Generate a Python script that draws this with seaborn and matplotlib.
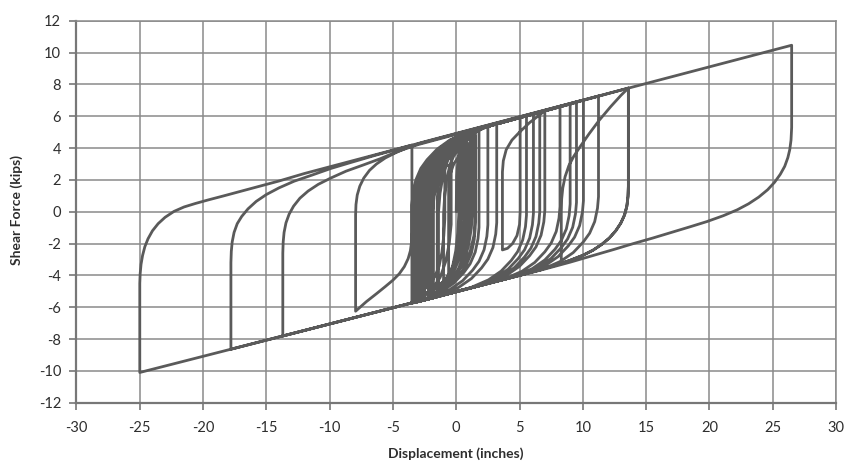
import matplotlib
matplotlib.use("Agg")
import matplotlib.pyplot as plt
import seaborn as sns
import pandas as pd

# Early small cycles around the origin, ending with the climb to the 13.6 in peak
early_disp = [0, 0.03, 0.15, 0.4, 0.8,
              0.8, 0.62, 0.26, -0.28, -1.0, -1.9, -2.8,
              -2.8, -2.65, -2.35, -1.9, -1.3, -0.55, 0.2,
              0.2, 0.12, -0.04, -0.28, -0.6, -1.0, -1.4,
              -1.4, -1.28, -1.03, -0.65, -0.15, 0.48, 1.1,
              1.1, 0.94, 0.6, 0.11, -0.55, -1.38, -2.2,
              -2.2, -2.11, -1.93, -1.66, -1.3, -0.85, -0.4,
              -0.4, -0.55, -0.84, -1.27, -1.85, -2.58, -3.3,
              -3.3, -3.22, -3.0, -2.6, -2.1, -1.3, -0.3, 1.5,
              1.5, 1.42, 1.2, 0.8, 0.3, -0.5, -1.5, -2.5,
              -2.5, -2.42, -2.2, -1.8, -1.3, -0.5, 0.5, 2.0, 2.5,
              2.5, 2.42, 2.2, 1.8, 1.3, 0.5, -0.5, -1.8,
              -1.8, -1.72, -1.5, -1.1, -0.6, 0.2, 1.2, 1.8,
              1.8, 1.72, 1.5, 1.1, 0.6, -0.2, -1.2, -2.7, -3.2,
              -3.2, -3.12, -2.9, -2.5, -2.0, -1.2, -0.2, 1.3, 3.2,
              3.2, 3.12, 2.9, 2.5, 2.0, 1.2, 0.2, -1.3, -3.0,
              -3.0, -2.92, -2.7, -2.3, -1.8, -1.0, 0.0, 1.5, 5.55,
              5.55, 5.47, 5.25, 4.85, 4.35, 3.55, 2.55, 1.05, -2.0,
              -2.0, -1.92, -1.7, -1.3, -0.8, 0.0, 1.0, 2.5, 13.6]
early_force = [0, 2.2, 3.3, 4.1, 4.75,
               -0.28, -1.48, -2.69, -3.69, -4.40, -4.9, -5.3,
               -0.4, 0.78, 1.95, 2.93, 3.62, 4.1, 4.5,
               -0.2, -1.33, -2.46, -3.4, -4.05, -4.52, -4.9,
               -0.03, 1.15, 2.32, 3.29, 3.97, 4.46, 4.85,
               -0.25, -1.47, -2.7, -3.72, -4.43, -4.94, -5.35,
               -0.63, 0.51, 1.64, 2.59, 3.25, 3.72, 4.1,
               -0.8, -1.98, -3.15, -4.13, -4.82, -5.31, -5.7,
               0.46, 1.18, 2.02, 2.76, 3.31, 3.98, 4.55, 5.1,
               -1.04, -1.76, -2.6, -3.33, -3.88, -4.55, -5.1, -5.5,
               0.63, 1.35, 2.19, 2.93, 3.48, 4.15, 4.72, 5.25, 5.39,
               -0.83, -1.55, -2.39, -3.12, -3.67, -4.34, -4.89, -5.35,
               0.78, 1.5, 2.34, 3.08, 3.63, 4.3, 4.87, 5.1,
               -0.98, -1.7, -2.54, -3.27, -3.82, -4.49, -5.04, -5.56, -5.69,
               0.48, 1.2, 2.04, 2.78, 3.33, 4.0, 4.57, 5.1, 5.54,
               -0.69, -1.41, -2.25, -2.98, -3.53, -4.2, -4.75, -5.27, -5.65,
               0.52, 1.24, 2.08, 2.82, 3.37, 4.04, 4.61, 5.14, 6.04,
               -0.22, -0.94, -1.78, -2.51, -3.06, -3.73, -4.28, -4.80, -5.45,
               0.74, 1.46, 2.3, 3.04, 3.59, 4.26, 4.83, 5.36, 7.77]

# Strong-motion pulse: the large excursions to both sides
pulse_disp = [13.6, 13.57, 13.48, 13.3, 13.0, 12.6, 12.1, 11.5, 10.8, 10.0, 9.1, 8.3,
              8.3, 8.33, 8.42, 8.6, 8.9, 9.3, 9.8, 10.5, 11.3, 12.2, 13.0, 13.6,
              13.6, 13.57, 13.48, 13.3, 13.0, 12.6, 12.1, 11.5, 10.8, 10.0, 9.1, 8.0, 6.5, -13.7,
              -13.7, -13.67, -13.6, -13.45, -13.2, -12.85, -12.35, -11.7, -10.9, -9.9,
              -8.7, -7.3, -6.0, -4.6, -3.0, 11.24,
              11.24, 11.16, 10.94, 10.54, 10.04, 9.24, 8.24, 6.74, -17.8,
              -17.8, -17.77, -17.7, -17.55, -17.3, -16.95, -16.45, -15.8, -15.0, -14.0,
              -12.8, -11.4, -9.9, -8.3, -6.5, -4.5, -2.5, 26.5,
              26.5, 26.45, 26.35, 26.2, 25.95, 25.6, 25.15, 24.6, 23.9, 23.1, 22.2,
              21.1, 19.8, 18.5, 17.0, 15.5, 14.0, 12.5, 11.0, 9.0, 7.0, -25.0,
              -25.0, -24.97, -24.9, -24.78, -24.6, -24.35, -24.0, -23.55, -23.0, -22.3,
              -21.5, -20.6, -19.6, -18.4, -17.0, -15.5, -14.0, -12.0, -3.5,
              -3.5, -3.53, -3.62, -3.8, -4.1, -4.5, -5.0, -5.6, -6.3, -7.1, -7.95,
              -7.95, -7.92, -7.82, -7.62, -7.3, -6.85, -6.3, -5.6, -4.8, -3.9, -3.0, 10.05]
pulse_force = [1.6, 0.95, 0.35, -0.2, -0.72, -1.2, -1.65, -2.05, -2.42, -2.74, -3.02, -3.25,
               0.0, 0.8, 1.5, 2.2, 2.9, 3.5, 4.1, 4.9, 5.75, 6.6, 7.3, 7.77,
               1.6, 0.95, 0.35, -0.2, -0.72, -1.2, -1.65, -2.05, -2.42, -2.74, -3.02, -3.33, -3.68, -7.81,
               -2.6, -1.9, -1.3, -0.7, -0.15, 0.35, 0.85, 1.3, 1.72, 2.12,
               2.55, 2.95, 3.33, 3.8, 4.22, 7.27,
               0.94, 0.22, -0.62, -1.35, -1.9, -2.57, -3.12, -3.64, -8.64,
               -3.2, -2.5, -1.9, -1.3, -0.75, -0.3, 0.18, 0.65, 1.08, 1.5,
               1.92, 2.3, 2.72, 3.1, 3.52, 3.96, 4.4, 10.46,
               5.3, 4.5, 3.9, 3.4, 2.85, 2.35, 1.85, 1.38, 0.92, 0.5, 0.12,
               -0.25, -0.62, -0.94, -1.3, -1.66, -2.0, -2.36, -2.71, -3.17, -3.6, -10.1,
               -4.5, -3.9, -3.3, -2.75, -2.2, -1.7, -1.2, -0.75, -0.35, 0.02,
               0.30, 0.52, 0.74, 0.99, 1.29, 1.61, 1.93, 2.40, 4.19,
               -1.3, -1.9, -2.45, -2.95, -3.45, -3.9, -4.3, -4.7, -5.15, -5.65, -6.25,
               -0.2, 0.45, 1.05, 1.6, 2.12, 2.6, 3.0, 3.38, 3.7, 4.02, 4.27, 7.02]

# Decaying cycles after the pulse
decay_disp = [10.05, 9.97, 9.75, 9.35, 8.85, 8.05, 7.05, 5.55, -3.5,
              -3.5, -3.42, -3.2, -2.8, -2.3, -1.5, -0.5, 1.0, 9.5,
              9.5, 9.42, 9.2, 8.8, 8.3, 7.5, 6.5, 5.0, -3.3,
              -3.3, -3.22, -3.0, -2.6, -2.1, -1.3, -0.3, 1.2, 9.0,
              9.0, 8.92, 8.7, 8.3, 7.8, 7.0, 6.0, 4.5, -2.8,
              -2.8, -2.72, -2.5, -2.1, -1.6, -0.8, 0.2, 1.7, 8.2,
              8.2, 8.12, 7.9, 7.5, 7.0, 6.2, 5.2, 3.7, -2.5,
              -2.5, -2.42, -2.2, -1.8, -1.3, -0.5, 0.5, 2.0, 6.6,
              6.6, 6.52, 6.3, 5.9, 5.4, 4.6, 3.6, 2.1, -3.1,
              -3.1, -3.02, -2.8, -2.4, -1.9, -1.1, -0.1, 1.4, 6.1,
              6.1, 6.02, 5.8, 5.4, 4.9, 4.1, 3.1, 1.6, -2.2,
              -2.2, -2.12, -1.9, -1.5, -1.0, -0.2, 0.8, 2.3, 5.05]
decay_force = [0.69, -0.03, -0.87, -1.6, -2.15, -2.82, -3.37, -3.89, -5.75,
               0.42, 1.14, 1.98, 2.72, 3.27, 3.94, 4.51, 5.04, 6.87,
               0.58, -0.14, -0.98, -1.71, -2.26, -2.93, -3.48, -4.0, -5.71,
               0.46, 1.18, 2.02, 2.76, 3.31, 3.98, 4.55, 5.08, 6.77,
               0.48, -0.24, -1.08, -1.81, -2.36, -3.03, -3.58, -4.1, -5.61,
               0.57, 1.29, 2.13, 2.87, 3.42, 4.09, 4.66, 5.19, 6.6,
               0.32, -0.4, -1.24, -1.97, -2.52, -3.19, -3.74, -4.26, -5.55,
               0.63, 1.35, 2.19, 2.93, 3.48, 4.15, 4.72, 5.25, 6.26,
               0.0, -0.72, -1.56, -2.29, -2.84, -3.51, -4.06, -4.58, -5.67,
               0.5, 1.22, 2.06, 2.8, 3.35, 4.02, 4.59, 5.12, 6.15,
               -0.1, -0.82, -1.66, -2.39, -2.94, -3.61, -4.16, -4.68, -5.49,
               0.69, 1.41, 2.25, 2.99, 3.54, 4.21, 4.78, 5.31, 5.93]

# Final minor loop and free vibration near zero
tail_disp = [5.05, 5.0, 4.8, 4.45, 4.05, 3.65,
             3.65, 3.72, 3.95, 4.4, 5.0, 5.8, 7.0,
             7.0, 6.92, 6.7, 6.3, 5.8, 5.0, 4.0, 2.5, -1.5,
             -1.5, -1.42, -1.2, -0.8, -0.3, 0.5, 1.5,
             1.5, 1.4, 1.1, 0.6, 0.0, -0.6,
             -0.6, -0.5, -0.2, 0.3, 0.9,
             0.9, 0.72, 0.37, -0.15, -0.85, -1.73, -2.6,
             -2.6, -2.45, -2.15, -1.7, -1.1, -0.35, 0.4,
             0.4, 0.29, 0.06, -0.29, -0.75, -1.33, -1.9,
             -1.9, -1.74, -1.42, -0.94, -0.3, 0.5, 1.3,
             1.3, 1.19, 0.96, 0.61, 0.15, -0.43, -1.0,
             -1.0, -0.92, -0.76, -0.52, -0.2, 0.2, 0.6,
             0.6, 0.43, 0.08, -0.45, -1.15, -2.03, -2.9,
             -2.9, -2.8, -2.6, -2.3, -1.9, -1.4, -0.9,
             -0.9, -0.98, -1.13, -1.35, -1.65, -2.03, -2.4,
             -2.4, -2.3, -2.1, -1.8, -1.3, -0.7, -0.2]
tail_force = [0.0, -0.8, -1.5, -2.0, -2.3, -2.4,
              2.5, 3.2, 3.9, 4.5, 5.0, 5.6, 6.34,
              0.08, -0.64, -1.48, -2.21, -2.76, -3.43, -3.98, -4.5, -5.34,
              0.84, 1.56, 2.4, 3.14, 3.69, 4.36, 4.8,
              -0.5, -1.5, -2.5, -3.3, -3.8, -4.2,
              1.5, 2.3, 3.0, 3.6, 4.3,
              -0.45, -1.59, -2.73, -3.68, -4.35, -4.82, -5.2,
              -0.4, 0.75, 1.9, 2.86, 3.54, 4.02, 4.4,
              -0.3, -1.43, -2.56, -3.5, -4.15, -4.62, -5.0,
              -0.15, 1.01, 2.18, 3.15, 3.83, 4.31, 4.7,
              0.05, -1.07, -2.18, -3.11, -3.76, -4.23, -4.6,
              -0.15, 0.92, 1.99, 2.88, 3.5, 3.94, 4.3,
              -0.55, -1.71, -2.88, -3.85, -4.53, -5.01, -5.4,
              -0.75, 0.37, 1.48, 2.41, 3.06, 3.53, 3.9,
              -0.45, -1.49, -2.54, -3.41, -4.02, -4.46, -4.8,
              -0.5, 0.5, 1.4, 2.1, 2.6, 2.9, 3.0]

x_ticks = list(range(-30, 31, 5))
y_ticks = list(range(-12, 13, 2))

disp = early_disp + pulse_disp + decay_disp + tail_disp
force = early_force + pulse_force + decay_force + tail_force
history = pd.DataFrame({"step": range(len(disp)), "disp": disp, "force": force})

sns.set_theme(style="white")
plt.rcParams["font.family"] = ["Lato", "DejaVu Sans"]

fig = plt.figure(figsize=(8.48, 4.66), dpi=100)
ax = fig.add_axes([0.0902, 0.1358, 0.8956, 0.8197])

grid_col = "#8a8a8a"
axis_col = "#777777"
text_col = "#2e2e2e"

sns.lineplot(data=history, x="disp", y="force", sort=False, estimator=None,
             color="#5a5a5a", linewidth=2.0, ax=ax, zorder=3)

ax.set_xlim(-30, 30)
ax.set_ylim(-12, 12)
ax.set_xticks(x_ticks)
ax.set_yticks(y_ticks)
ax.set_xticklabels([str(v) for v in x_ticks])
ax.set_yticklabels([str(v) for v in y_ticks])
ax.grid(True, color=grid_col, linewidth=1.1)
ax.set_axisbelow(True)

for side in ("top", "right"):
    ax.spines[side].set_color(grid_col)
    ax.spines[side].set_linewidth(1.1)
for side in ("left", "bottom"):
    ax.spines[side].set_color(axis_col)
    ax.spines[side].set_linewidth(1.6)

ax.tick_params(axis="both", which="major", direction="out", length=5, width=1.2,
               color=axis_col, labelsize=10.5, labelcolor=text_col)
ax.tick_params(axis="x", pad=8, bottom=True)
ax.tick_params(axis="y", pad=6, left=True)

ax.set_xlabel("Displacement (inches)", fontsize=10, fontweight="bold", color=text_col)
ax.set_ylabel("Shear Force (kips)", fontsize=10, fontweight="bold", color=text_col)
ax.xaxis.set_label_coords(0.4997, -0.116)
ax.yaxis.set_label_coords(-0.0705, 0.5045)

fig.savefig("out.png", dpi=100)
